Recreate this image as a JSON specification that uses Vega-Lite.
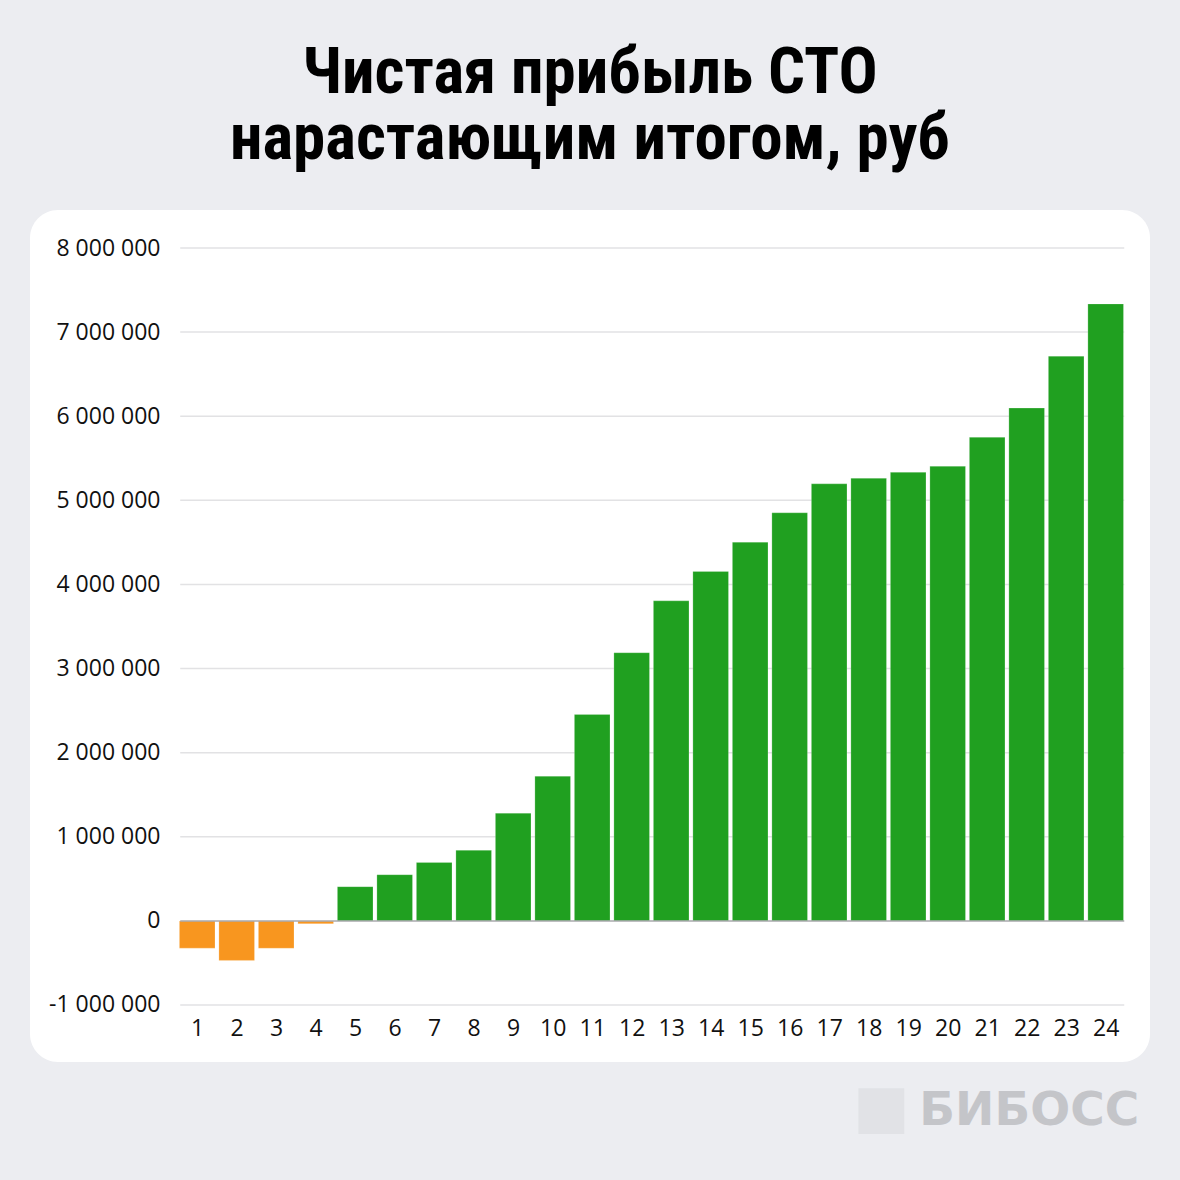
{
  "$schema": "https://vega.github.io/schema/vega-lite/v6.json",
  "width": 1120,
  "height": 852,
  "autosize": {"type": "none"},
  "padding": {"left": 30, "top": 210, "right": 30, "bottom": 118},
  "background": "#ECEDF1",
  "config": {
    "view": {"fill": "#FFFFFF", "stroke": null, "cornerRadius": 28},
    "locale": {"number": {"decimal": ",", "thousands": " ", "grouping": [3], "currency": ["", ""], "minus": "-"}},
    "font": "Open Sans"
  },
  "title": {
    "text": ["Чистая прибыль СТО", "нарастающим итогом, руб"],
    "font": "Liberation Sans Narrow, Roboto Condensed, DejaVu Sans Condensed",
    "fontSize": 65,
    "fontWeight": "bold",
    "color": "#000000",
    "anchor": "middle",
    "lineHeight": 66,
    "offset": 37
  },
  "datasets": {
    "bars": [
      {"month": 1, "profit": -324000},
      {"month": 2, "profit": -470000},
      {"month": 3, "profit": -325000},
      {"month": 4, "profit": -33000},
      {"month": 5, "profit": 407000},
      {"month": 6, "profit": 549000},
      {"month": 7, "profit": 695000},
      {"month": 8, "profit": 839000},
      {"month": 9, "profit": 1281000},
      {"month": 10, "profit": 1720000},
      {"month": 11, "profit": 2455000},
      {"month": 12, "profit": 3188000},
      {"month": 13, "profit": 3805000},
      {"month": 14, "profit": 4155000},
      {"month": 15, "profit": 4503000},
      {"month": 16, "profit": 4852000},
      {"month": 17, "profit": 5196000},
      {"month": 18, "profit": 5262000},
      {"month": 19, "profit": 5333000},
      {"month": 20, "profit": 5405000},
      {"month": 21, "profit": 5749000},
      {"month": 22, "profit": 6097000},
      {"month": 23, "profit": 6714000},
      {"month": 24, "profit": 7335000}
    ],
    "grid": [
      {"level": -1000000},
      {"level": 1000000},
      {"level": 2000000},
      {"level": 3000000},
      {"level": 4000000},
      {"level": 5000000},
      {"level": 6000000},
      {"level": 7000000},
      {"level": 8000000}
    ],
    "zero": [{"level": 0}],
    "brand": [{"name": "БИБОСС", "bx": 19.28, "lx": 18.32, "by": -2262000}]
  },
  "layer": [
    {
      "data": {"name": "grid"},
      "mark": {"type": "rule", "color": "#E2E2E4", "strokeWidth": 1.5},
      "encoding": {
        "y": {
          "field": "level",
          "type": "quantitative",
          "scale": {"domain": [-1677700, 8451800], "nice": false, "zero": false, "padding": 0},
          "axis": {
            "orient": "left",
            "title": null,
            "values": [-1000000, 0, 1000000, 2000000, 3000000, 4000000, 5000000, 6000000, 7000000, 8000000],
            "format": ",d",
            "offset": -150,
            "ticks": false,
            "domain": false,
            "grid": false,
            "labelPadding": 20,
            "labelFontSize": 23,
            "labelColor": "#111111",
            "labelFont": "Open Sans"
          }
        },
        "x": {"datum": 0.57, "type": "quantitative"},
        "x2": {"datum": 24.47}
      }
    },
    {
      "data": {"name": "bars"},
      "mark": {"type": "bar", "size": 35.6, "stroke": "#FFFFFF", "strokeOpacity": 0.35, "strokeWidth": 0.6},
      "encoding": {
        "x": {
          "field": "month",
          "type": "quantitative",
          "scale": {"domain": [-3.233, 25.122], "nice": false, "zero": false, "padding": 0},
          "axis": {
            "orient": "bottom",
            "title": null,
            "values": [1,2,3,4,5,6,7,8,9,10,11,12,13,14,15,16,17,18,19,20,21,22,23,24],
            "format": "d",
            "offset": -45,
            "ticks": false,
            "domain": false,
            "grid": false,
            "labelPadding": 0,
            "labelFontSize": 23,
            "labelColor": "#111111",
            "labelFont": "Open Sans"
          }
        },
        "y": {"field": "profit", "type": "quantitative"},
        "y2": {"datum": 0},
        "color": {
          "condition": {"test": "datum.profit < 0", "value": "#F8961F"},
          "value": "#20A020"
        }
      }
    },
    {
      "data": {"name": "zero"},
      "mark": {"type": "rule", "color": "#A9A9AD", "strokeWidth": 1.5},
      "encoding": {
        "y": {"field": "level", "type": "quantitative"},
        "x": {"datum": 0.57, "type": "quantitative"},
        "x2": {"datum": 24.47}
      }
    },
    {
      "data": {"name": "brand"},
      "mark": {"type": "square", "size": 2100, "color": "#E1E2E6", "opacity": 1, "filled": true, "clip": false},
      "encoding": {
        "x": {"field": "lx", "type": "quantitative"},
        "y": {"field": "by", "type": "quantitative"}
      }
    },
    {
      "data": {"name": "brand"},
      "mark": {"type": "text", "align": "left", "baseline": "middle", "fontSize": 47, "fontWeight": "bold", "font": "DejaVu Sans", "color": "#C4C5C9", "clip": false},
      "encoding": {
        "x": {"field": "bx", "type": "quantitative"},
        "y": {"field": "by", "type": "quantitative"},
        "text": {"field": "name"}
      }
    }
  ]
}
